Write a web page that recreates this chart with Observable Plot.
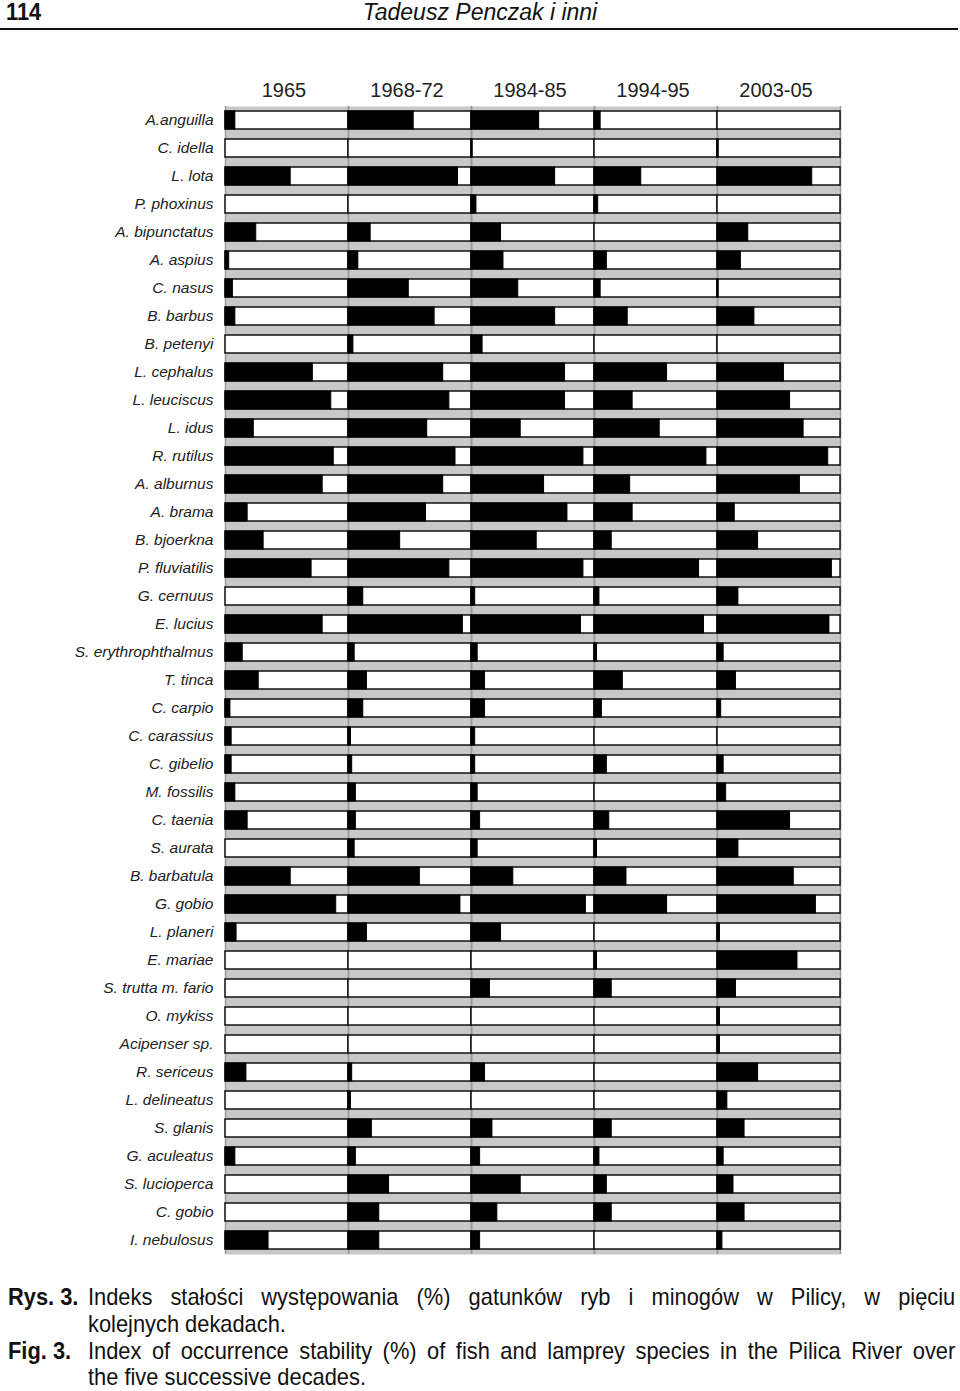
<!DOCTYPE html>
<html>
<head>
<meta charset="utf-8">
<script src="https://cdn.jsdelivr.net/npm/d3@7"></script>
<script src="https://cdn.jsdelivr.net/npm/@observablehq/plot@0.6"></script>
<style>
  html, body { margin: 0; padding: 0; background: #fff; }
  #page { position: relative; width: 960px; height: 1391px; overflow: hidden; font-family: "Liberation Sans", Arial, sans-serif; color: #111; }
  .hdr-num { position: absolute; left: 6px; top: 0px; font-size: 23px; line-height: 24px; font-weight: bold; transform: scaleX(0.95); transform-origin: left top; }
  .hdr-title { position: absolute; left: 0; width: 960px; top: 0px; line-height: 24px; text-align: center; font-size: 23px; font-style: italic; }
  .hdr-rule { position: absolute; left: 0; width: 958px; top: 28px; height: 2px; background: #111; }
  #chart { position: absolute; left: 0; top: 40px; }
  .line { position: absolute; font-size: 24px; line-height: 18px; white-space: nowrap; transform-origin: left top; transform: scaleX(0.91); }
  .just { text-align: justify; text-align-last: justify; width: 953px; }
</style>
</head>
<body>
<div id="page">
  <div class="hdr-num">114</div>
  <div class="hdr-title">Tadeusz Penczak i inni</div>
  <div class="hdr-rule"></div>
  <div id="chart"></div>
  <div class="line" style="left:8px; top:1288px;"><b>Rys. 3.</b></div>
  <div class="line just" style="left:88px; top:1288px;">Indeks stałości występowania (%) gatunków ryb i minogów w Pilicy, w pięciu</div>
  <div class="line" style="left:88px; top:1315px;">kolejnych dekadach.</div>
  <div class="line" style="left:8px; top:1342px;"><b>Fig. 3.</b></div>
  <div class="line just" style="left:88px; top:1342px;">Index of occurrence stability (%) of fish and lamprey species in the Pilica River over</div>
  <div class="line" style="left:88px; top:1368px;">the five successive decades.</div>
</div>
<script>
const species = ["A.anguilla","C. idella","L. lota","P. phoxinus","A. bipunctatus","A. aspius","C. nasus","B. barbus","B. petenyi","L. cephalus","L. leuciscus","L. idus","R. rutilus","A. alburnus","A. brama","B. bjoerkna","P. fluviatilis","G. cernuus","E. lucius","S. erythrophthalmus","T. tinca","C. carpio","C. carassius","C. gibelio","M. fossilis","C. taenia","S. aurata","B. barbatula","G. gobio","L. planeri","E. mariae","S. trutta m. fario","O. mykiss","Acipenser sp.","R. sericeus","L. delineatus","S. glanis","G. aculeatus","S. lucioperca","C. gobio","I. nebulosus"];
const periods = ["1965","1968-72","1984-85","1994-95","2003-05"];
const v1965 = [8,0,53,0,25,3,6,8,0,71,86,23,88,79,18,31,70,0,79,14,27,4,5,5,8,18,0,53,90,9,0,0,0,0,17,0,0,8,0,0,35];
const v1968 = [53,0,89,0,18,8,49,70,4,77,82,64,87,77,63,42,82,12,93,5,15,12,2,3,6,6,5,58,91,15,0,0,0,0,3,2,19,6,33,25,25];
const v1984 = [55,1,68,4,24,26,38,68,9,76,76,40,91,59,78,53,91,3,89,5,11,11,3,3,5,7,5,34,93,24,0,15,0,0,11,0,17,7,40,21,7];
const v1994 = [5,0,38,3,0,10,5,27,0,59,31,53,91,29,31,14,85,4,89,2,23,6,0,10,0,12,2,26,59,0,2,14,0,0,0,0,14,4,10,14,0];
const v2003 = [0,1,77,0,25,19,1,30,0,54,59,70,90,67,14,33,93,17,91,5,15,3,0,5,7,59,17,62,80,2,65,15,2,2,33,8,22,5,13,22,4];

const series = [v1965, v1968, v1984, v1994, v2003];
const data = species.flatMap((s, i) => periods.map((p, j) => ({species: s, period: p, value: series[j][i]})));

const chart = Plot.plot({
  width: 960,
  height: 1220,
  marginLeft: 223,
  marginRight: 119,
  marginTop: 66,
  marginBottom: 6,
  style: {fontFamily: "'Liberation Sans', Arial, sans-serif", background: "transparent", color: "#111"},
  fx: {domain: periods, padding: 0, label: null},
  x: {domain: [0, 100], axis: null},
  y: {domain: species, paddingInner: 0.36, paddingOuter: 0.18, label: null, axis: null},
  marks: [
    Plot.frame({fill: "#c8c8c8", stroke: null}),
    Plot.ruleX([0, 100], {stroke: "#9a9a9a", strokeWidth: 1.5}),
    Plot.barX(data, {x1: () => 0, x2: () => 100, y: "species", fx: "period", fill: "white", stroke: "#111", strokeWidth: 1.5}),
    Plot.barX(data.filter(d => d.value > 0), {x1: () => 0, x2: "value", y: "species", fx: "period", fill: "black", stroke: "black", strokeWidth: 1}),
    Plot.axisFx({anchor: "top", tickSize: 0, tickPadding: 10, dx: -3, fontSize: 20, fill: "#222", label: null}),
    Plot.axisY({anchor: "left", tickSize: 0, tickPadding: 12, fontSize: 15.5, fontStyle: "italic", fill: "#222", label: null})
  ]
});
document.getElementById("chart").appendChild(chart);
</script>
</body>
</html>
